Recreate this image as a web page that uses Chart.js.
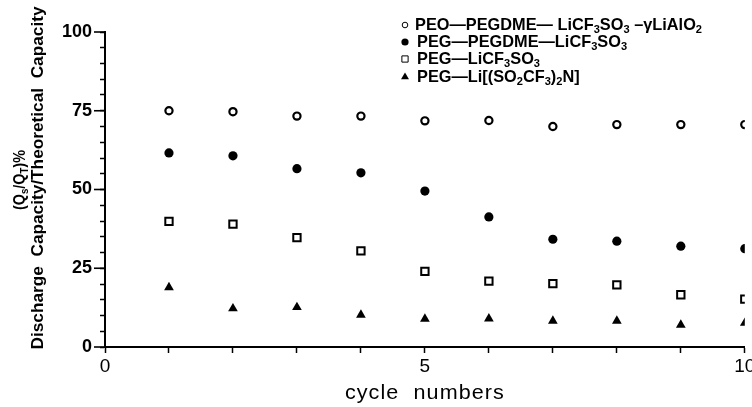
<!DOCTYPE html>
<html>
<head>
  <meta charset="UTF-8">
  <title>Discharge capacity vs cycle number</title>
  <script src="https://cdn.jsdelivr.net/npm/chart.js"></script>
  <style>
    body {
      margin: 0;
      background: #fff;
    }
    canvas {
      display: block;
    }
  </style>
</head>
<body>

<canvas id="chartCycles" width="752" height="407"></canvas>

<script>
  // cycle numbers on the x axis
  const cycles = [1, 2, 3, 4, 5, 6, 7, 8, 9, 10];

  // discharge / theoretical capacity, %
  const peoLiAlO2 = [75.0, 74.7, 73.3, 73.3, 71.8, 71.9, 70.0, 70.6, 70.6, 70.6];
  const pegPegdme = [61.6, 60.7, 56.6, 55.3, 49.5, 41.3, 34.2, 33.6, 32.0, 31.2];
  const pegTriflate = [39.9, 39.0, 34.7, 30.5, 24.0, 20.9, 20.1, 19.7, 16.6, 15.2];
  const pegImide = [18.9, 12.2, 12.6, 10.2, 8.9, 9.0, 8.3, 8.3, 7.0, 7.6];

  // legend text, _{..} marks a subscript
  const seriesLabels = [
    'PEO—PEGDME— LiCF_{3}SO_{3} –γLiAlO_{2}',
    'PEG—PEGDME—LiCF_{3}SO_{3}',
    'PEG—LiCF_{3}SO_{3}',
    'PEG—Li[(SO_{2}CF_{3})_{2}N]'
  ];

  const xMajorTicks = [0, 5, 10];
  const yMajorTicks = [0, 25, 50, 75, 100];

  const yTitleLines = ['(Q_{s}/Q_{T})%', 'Discharge  Capacity/Theoretical  Capacity'];
  const xTitle = 'cycle  numbers';

  const FONT = '"Liberation Sans", Arial, sans-serif';

  function pts(values) {
    return cycles.map((c, i) => ({ x: c, y: values[i] }));
  }

  // split "abc_{3}def" into [{t:'abc'}, {t:'3', sub:true}, {t:'def'}]
  function parseRich(text) {
    const parts = [];
    const re = /_\{([^}]*)\}/g;
    let last = 0, m;
    while ((m = re.exec(text)) !== null) {
      if (m.index > last) parts.push({ t: text.slice(last, m.index) });
      parts.push({ t: m[1], sub: true });
      last = re.lastIndex;
    }
    if (last < text.length) parts.push({ t: text.slice(last) });
    return parts;
  }

  function richWidth(ctx, parts, size, weight) {
    let w = 0;
    parts.forEach(p => {
      ctx.font = `${weight} ${p.sub ? size * 0.68 : size}px ${FONT}`;
      w += ctx.measureText(p.t).width;
    });
    return w;
  }

  // draws rich text starting at (x, y) (middle baseline), squeezed to width if given
  function drawRich(ctx, text, x, y, size, opts) {
    opts = opts || {};
    const weight = opts.weight || 'normal';
    const parts = parseRich(text);
    const w = richWidth(ctx, parts, size, weight);
    const sx = opts.width ? opts.width / w : (opts.sx || 1);
    ctx.save();
    ctx.translate(x, y);
    ctx.scale(sx, 1);
    if (opts.center) ctx.translate(-w / 2, 0);
    ctx.fillStyle = '#000';
    ctx.textBaseline = 'middle';
    ctx.textAlign = 'left';
    let cx = 0;
    parts.forEach(p => {
      const s = p.sub ? size * 0.68 : size;
      ctx.font = `${weight} ${s}px ${FONT}`;
      ctx.fillText(p.t, cx, p.sub ? size * 0.3 : 0);
      cx += ctx.measureText(p.t).width;
    });
    ctx.restore();
    return sx;
  }

  const extras = {
    id: 'extras',
    afterDraw(chart) {
      const ctx = chart.ctx;
      const yScale = chart.scales.y;
      const xScale = chart.scales.x;

      // longer marks on the labelled y ticks
      ctx.save();
      ctx.strokeStyle = '#000';
      ctx.lineWidth = 1.6;
      yMajorTicks.forEach(v => {
        const py = yScale.getPixelForValue(v);
        ctx.beginPath();
        ctx.moveTo(yScale.right - 11, py);
        ctx.lineTo(yScale.right, py);
        ctx.stroke();
      });
      ctx.restore();

      // legend
      const rowY = [25, 42, 59, 77];
      let sx = 1;
      chart.data.datasets.forEach((ds, i) => {
        ctx.save();
        ctx.fillStyle = ds.pointBackgroundColor;
        ctx.strokeStyle = ds.pointBorderColor;
        Chart.helpers.drawPoint(ctx, {
          pointStyle: ds.pointStyle,
          radius: ds.legendRadius,
          borderWidth: ds.pointBorderWidth,
          rotation: 0
        }, 405, rowY[i]);
        ctx.restore();
        if (i === 0) {
          sx = drawRich(ctx, ds.label, 415, rowY[i], 16.5, { width: 287, weight: 'bold' });
        } else {
          drawRich(ctx, ds.label, 417, rowY[i], 16.5, { sx: sx, weight: 'bold' });
        }
      });

      // rotated y title, two lines
      ctx.save();
      ctx.translate(20, 180);
      ctx.rotate(-Math.PI / 2);
      drawRich(ctx, yTitleLines[0], 0, 0, 17, { center: true, weight: 'bold', width: 60 });
      ctx.restore();

      ctx.save();
      ctx.translate(39, 178);
      ctx.rotate(-Math.PI / 2);
      drawRich(ctx, yTitleLines[1], 0, 0, 16, { center: true, weight: 'bold', width: 343 });
      ctx.restore();

      // x title
      ctx.save();
      ctx.letterSpacing = '1px';
      drawRich(ctx, xTitle, (xScale.left + xScale.right) / 2, 393, 20, { center: true, width: 160 });
      ctx.restore();
    }
  };

  new Chart(document.getElementById('chartCycles'), {
    type: 'scatter',
    data: {
      datasets: [
        {
          label: seriesLabels[0],
          data: pts(peoLiAlO2),
          pointStyle: 'circle',
          pointRadius: 3.6,
          legendRadius: 2.8,
          pointBorderWidth: 2.2,
          pointBackgroundColor: '#fff',
          pointBorderColor: '#000'
        },
        {
          label: seriesLabels[1],
          data: pts(pegPegdme),
          pointStyle: 'circle',
          pointRadius: 4.6,
          legendRadius: 3.6,
          pointBorderWidth: 0,
          pointBackgroundColor: '#000',
          pointBorderColor: '#000'
        },
        {
          label: seriesLabels[2],
          data: pts(pegTriflate),
          pointStyle: 'rect',
          pointRadius: 5.2,
          legendRadius: 4.4,
          pointBorderWidth: 2,
          pointBackgroundColor: '#fff',
          pointBorderColor: '#000'
        },
        {
          label: seriesLabels[3],
          data: pts(pegImide),
          pointStyle: 'triangle',
          pointRadius: 5.6,
          legendRadius: 4.6,
          pointBorderWidth: 0,
          pointBackgroundColor: '#000',
          pointBorderColor: '#000'
        }
      ]
    },
    options: {
      responsive: false,
      animation: false,
      layout: { padding: { top: 32, right: 7, left: 0, bottom: 0 } },
      plugins: {
        legend: { display: false },
        tooltip: { enabled: false }
      },
      scales: {
        x: {
          type: 'linear',
          min: 0,
          max: 10,
          border: { color: '#000', width: 2 },
          grid: {
            drawOnChartArea: false,
            drawTicks: true,
            tickLength: 6,
            tickColor: '#000',
            tickWidth: 1.5
          },
          ticks: {
            stepSize: 1,
            color: '#000',
            padding: 2,
            maxRotation: 0,
            autoSkip: false,
            font: { family: FONT, size: 19 },
            callback: v => xMajorTicks.includes(v) ? String(v) : ''
          },
          afterFit(scale) {
            scale.height = 60;
            scale.paddingLeft = 0;
            scale.paddingRight = 0;
          }
        },
        y: {
          min: 0,
          max: 100,
          border: { color: '#000', width: 2 },
          grid: {
            drawOnChartArea: false,
            drawTicks: true,
            tickLength: 5,
            tickColor: '#000',
            tickWidth: 1.5
          },
          ticks: {
            stepSize: 5,
            color: '#000',
            padding: 8,
            autoSkip: false,
            font: { family: FONT, size: 18, weight: 'bold' },
            callback: v => yMajorTicks.includes(v) ? String(v) : ''
          },
          afterFit(scale) {
            scale.width = 105;
            scale.paddingTop = 0;
            scale.paddingBottom = 0;
          }
        }
      }
    },
    plugins: [extras]
  });
</script>

</body>
</html>
